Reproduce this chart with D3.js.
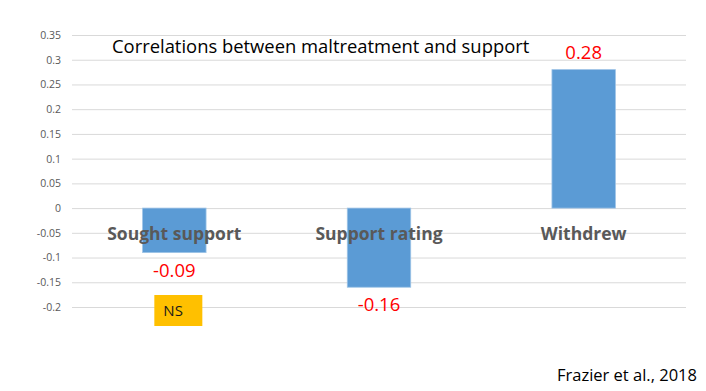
<!DOCTYPE html>
<html>
<head>
<meta charset="utf-8">
<script src="https://cdn.jsdelivr.net/npm/d3@7"></script>
<style>
  body { margin: 0; background: #fff; }
  text { font-family: "Open Sans", sans-serif; }
</style>
</head>
<body>
<svg id="chart" width="706" height="391"></svg>
<script>
// chart data
var categories = ["Sought support", "Support rating", "Withdrew"]
var correlations = [-0.09, -0.16, 0.28]
var value_labels = ["-0.09", "-0.16", "0.28"]
var tick_values = [0.35, 0.3, 0.25, 0.2, 0.15, 0.1, 0.05, 0, -0.05, -0.1, -0.15, -0.2]
var tick_labels = ["0.35", "0.3", "0.25", "0.2", "0.15", "0.1", "0.05", "0", "-0.05", "-0.1", "-0.15", "-0.2"]
var ns_flags = ["NS", "", ""]

var svg = d3.select("#chart")

var x = d3.scaleBand()
    .domain(categories)
    .range([72, 686])
    .paddingInner(0.69)
    .paddingOuter(0.345)

var y = d3.scaleLinear()
    .domain([-0.2, 0.35])
    .range([307, 35])

// gridlines + tick labels
var y_axis = d3.axisLeft(y)
    .tickValues(tick_values)
    .tickFormat(function(d, i) { return tick_labels[i] })
    .tickSize(-(686 - 72))
    .tickPadding(11)

var g_axis = svg.append("g")
    .attr("transform", "translate(72,0)")
    .call(y_axis)

g_axis.select(".domain").remove()
g_axis.selectAll(".tick line")
    .style("stroke", "#d9d9d9")
    .style("stroke-width", 1)
g_axis.selectAll(".tick text")
    .style("fill", "#595959")
    .style("font-size", "10.5px")
    .style("font-family", "'Open Sans', sans-serif")

// bars
var data = categories.map(function(c, i) {
  return { cat: c, value: correlations[i], label: value_labels[i], ns: ns_flags[i] }
})

svg.selectAll(".bar")
    .data(data)
    .enter()
    .append("rect")
      .attr("class", "bar")
      .attr("x", function(d) { return x(d.cat) })
      .attr("width", x.bandwidth())
      .attr("y", function(d) { return y(Math.max(0, d.value)) })
      .attr("height", function(d) { return Math.abs(y(d.value) - y(0)) })
      .style("fill", "#5b9bd5")
      .style("stroke", "#9dc3e6")
      .style("stroke-width", 0.8)

// category labels sit just under the zero line
svg.selectAll(".cat_label")
    .data(data)
    .enter()
    .append("text")
      .attr("class", "cat_label")
      .attr("x", function(d) { return x(d.cat) + x.bandwidth() / 2 })
      .attr("y", y(0) + 32)
      .attr("text-anchor", "middle")
      .style("font-size", "17.5px")
      .style("font-weight", "bold")
      .style("fill", "#595959")
      .text(function(d) { return d.cat })

// value labels in red
svg.selectAll(".val_label")
    .data(data)
    .enter()
    .append("text")
      .attr("class", "val_label")
      .attr("x", function(d) { return x(d.cat) + x.bandwidth() / 2 })
      .attr("y", function(d) {
        return d.value < 0 ? y(d.value) + 24 : y(d.value) - 11
      })
      .attr("text-anchor", "middle")
      .style("font-size", "18.5px")
      .style("fill", "#ff0000")
      .text(function(d) { return d.label })

// NS badge
var ns_data = data.filter(function(d) { return d.ns })
var ns_g = svg.selectAll(".ns")
    .data(ns_data)
    .enter()
    .append("g")
      .attr("class", "ns")
      .attr("transform", function(d) {
        return "translate(" + (x(d.cat) + x.bandwidth() / 2) + "," + (y(-0.2) - 12) + ")"
      })

ns_g.append("rect")
    .attr("x", -20)
    .attr("y", 0)
    .attr("width", 48)
    .attr("height", 31)
    .style("fill", "#ffc000")

ns_g.append("text")
    .attr("x", -11)
    .attr("y", 21)
    .style("font-size", "15px")
    .style("fill", "#1a1a1a")
    .text(function(d) { return d.ns })

// title
svg.append("text")
    .attr("x", 112)
    .attr("y", 53)
    .style("font-size", "18.4px")
    .style("fill", "#000")
    .text("Correlations between maltreatment and support")

// source note
svg.append("text")
    .attr("x", 697)
    .attr("y", 381)
    .attr("text-anchor", "end")
    .style("font-size", "16.5px")
    .style("fill", "#000")
    .text("Frazier et al., 2018")
</script>
</body>
</html>
